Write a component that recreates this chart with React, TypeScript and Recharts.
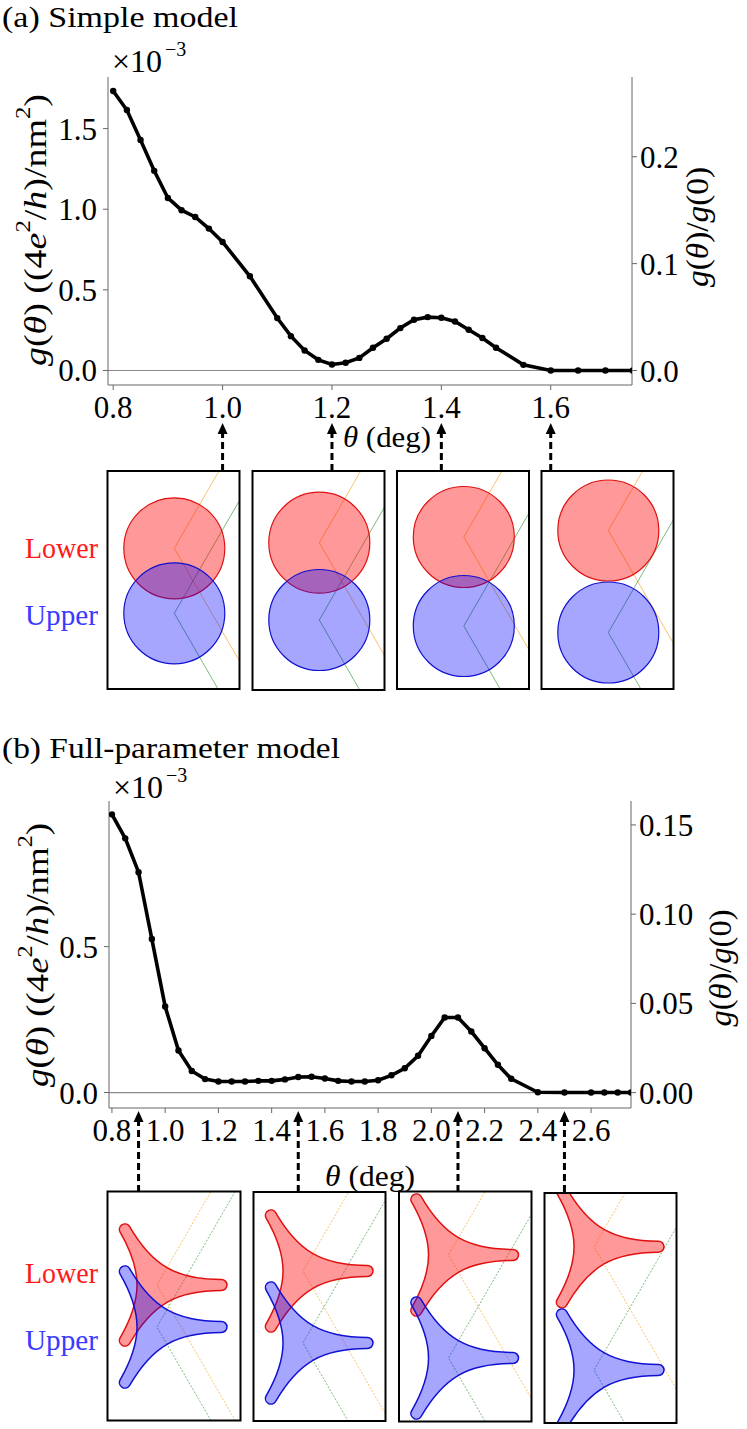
import React from 'react';
import { LineChart, Line, XAxis, YAxis, ReferenceLine } from 'recharts';

// ---- panel (a): simple model ----
const thetaA = [0.8, 0.825, 0.85, 0.875, 0.9, 0.925, 0.95, 0.975, 1.0, 1.05, 1.1, 1.125, 1.15, 1.175, 1.2, 1.225, 1.25, 1.275, 1.3, 1.325, 1.35, 1.375, 1.4, 1.425, 1.45, 1.475, 1.5, 1.55, 1.6, 1.65, 1.7, 1.75];
const gA = [1.733, 1.615, 1.429, 1.238, 1.07, 0.994, 0.952, 0.88, 0.797, 0.584, 0.325, 0.213, 0.124, 0.066, 0.037, 0.048, 0.078, 0.141, 0.197, 0.263, 0.315, 0.331, 0.327, 0.304, 0.253, 0.201, 0.141, 0.035, 0.0, 0.0, 0.0, 0.0];

// ---- panel (b): full-parameter model ----
const thetaB = [0.8, 0.85, 0.9, 0.95, 1.0, 1.05, 1.1, 1.15, 1.2, 1.25, 1.3, 1.35, 1.4, 1.45, 1.5, 1.55, 1.6, 1.65, 1.7, 1.75, 1.8, 1.85, 1.9, 1.95, 2.0, 2.05, 2.1, 2.15, 2.2, 2.25, 2.3, 2.4, 2.5, 2.6, 2.65, 2.7, 2.75];
const gB = [0.953, 0.871, 0.755, 0.526, 0.295, 0.144, 0.074, 0.046, 0.038, 0.038, 0.038, 0.04, 0.04, 0.045, 0.053, 0.054, 0.048, 0.04, 0.038, 0.038, 0.042, 0.059, 0.083, 0.126, 0.194, 0.257, 0.257, 0.209, 0.152, 0.095, 0.047, 0.001, 0.0, 0.0, 0.0, 0.0, 0.0];

const xTicksA = [0.8, 1.0, 1.2, 1.4, 1.6];
const yTicksA = [0, 0.5, 1.0, 1.5];
const rTicksA = [0, 0.1, 0.2];
const xTicksB = [0.8, 1.0, 1.2, 1.4, 1.6, 1.8, 2.0, 2.2, 2.4, 2.6];
const yTicksB = [0, 0.5];
const rTicksB = [0, 0.05, 0.1, 0.15];

// angles picked out for the inset sketches
const arrowsA = [1.0, 1.2, 1.4, 1.6];
const arrowsB = [0.9, 1.5, 2.1, 2.5];

const dataA = thetaA.map((t, i) => ({ theta: t, g: gA[i] }));
const dataB = thetaB.map((t, i) => ({ theta: t, g: gB[i] }));

const FONT = 'Liberation Serif, LiberationSerif, Tinos, Times New Roman, Times, Nimbus Roman, serif';
const tickStyle = { fontSize: 31, fill: '#000', fontFamily: FONT };

// plot-area geometry
const A = { left: 108, right: 632, top: 77, bottom: 385, x0: 0.7905, x1: 1.7486 };
const B = { left: 109, right: 631, top: 801, bottom: 1108, x0: 0.789, x1: 2.75 };
const xPix = (p: any, t: number) => p.left + ((t - p.x0) / (p.x1 - p.x0)) * (p.right - p.left);

const Panel = ({ top, height, data, geo, xTicks, yDomain, yTicks, rDomain, rTicks, rDigits }: any) => {
  const yAxisW = 70;
  const xAxisH = 40;
  const margin = {
    top: geo.top - top,
    bottom: top + height - geo.bottom - xAxisH,
    left: geo.left - yAxisW,
    right: 747 - geo.right - yAxisW,
  };
  return (
    <div style={{ position: 'absolute', left: 0, top, width: 747, height }}>
      <LineChart width={747} height={height} data={data} margin={margin}>
        <XAxis
          dataKey="theta"
          type="number"
          domain={[geo.x0, geo.x1]}
          ticks={xTicks}
          interval={0}
          allowDataOverflow
          height={xAxisH}
          tickSize={5}
          tickMargin={6}
          stroke="#666"
          tick={tickStyle}
          tickFormatter={(v: number) => v.toFixed(1)}
        />
        <XAxis xAxisId="top" orientation="top" type="number" domain={[geo.x0, geo.x1]} allowDataOverflow tick={false} tickLine={false} height={0} stroke="#666" />
        <YAxis
          yAxisId="left"
          type="number"
          domain={yDomain}
          ticks={yTicks}
          interval={0}
          allowDataOverflow
          width={yAxisW}
          tickSize={5}
          tickMargin={6}
          stroke="#666"
          tick={tickStyle}
          tickFormatter={(v: number) => v.toFixed(1)}
        />
        <YAxis
          yAxisId="right"
          orientation="right"
          type="number"
          domain={rDomain}
          ticks={rTicks}
          interval={0}
          allowDataOverflow
          width={yAxisW}
          tickSize={5}
          tickMargin={3}
          stroke="#666"
          tick={tickStyle}
          tickFormatter={(v: number) => v.toFixed(rDigits)}
        />
        <ReferenceLine yAxisId="left" y={0} stroke="#8a8a8a" strokeWidth={1.2} />
        <Line
          yAxisId="left"
          type="linear"
          dataKey="g"
          stroke="#000"
          strokeWidth={3.6}
          dot={{ r: 3.2, fill: '#000', stroke: 'none' }}
          isAnimationActive={false}
        />
      </LineChart>
    </div>
  );
};

// three-armed Fermi-pocket sketch
const starPath = (cx: number, cy: number, L = 70, w = 5.5, k = 0.65) => {
  const angs = [0, 120, 240].map((a) => (a * Math.PI) / 180);
  const pt = (a: number, r: number, s: number) =>
    `${(cx + r * Math.cos(a) - s * Math.sin(a)).toFixed(1)} ${(cy + r * Math.sin(a) + s * Math.cos(a)).toFixed(1)}`;
  let d = '';
  angs.forEach((a, i) => {
    const b = angs[(i + 1) % 3];
    if (i === 0) d += `M${pt(a, L - w, -w)}`;
    d += ` A${w} ${w} 0 0 1 ${pt(a, L - w, w)}`;
    d += ` C${pt(a, L - w - k * L, w)} ${pt(b, L - w - k * L, -w)} ${pt(b, L - w, -w)}`;
  });
  return d + ' Z';
};

const RED_FILL = 'rgba(255,0,0,0.4)';
const BLUE_FILL = 'rgba(0,0,255,0.35)';

const boxesA = [
  { x: 107.5, y: 471, w: 132, h: 218, red: 548.3, blue: 613.3 },
  { x: 252.5, y: 471, w: 132, h: 219, red: 542.7, blue: 620 },
  { x: 397, y: 471, w: 132, h: 218, red: 537, blue: 626 },
  { x: 541.5, y: 471, w: 132, h: 218, red: 530.5, blue: 632.5 },
];
const boxesB = [
  { x: 107.5, y: 1191.5, w: 133, h: 229, red: 1285, blue: 1327 },
  { x: 253.5, y: 1192, w: 132, h: 229, red: 1271, blue: 1343 },
  { x: 399, y: 1191.5, w: 132.5, h: 230, red: 1255, blue: 1358 },
  { x: 544.5, y: 1193, w: 132, h: 230, red: 1246.7, blue: 1370 },
];

const Zigzag = ({ cx, cy, color, dash }: any) => {
  const s = 300;
  return (
    <polyline
      points={`${cx + s * 0.5},${cy - s * 0.866} ${cx},${cy} ${cx + s * 0.5},${cy + s * 0.866}`}
      fill="none"
      stroke={color}
      strokeWidth={0.9}
      strokeOpacity={0.75}
      strokeDasharray={dash}
    />
  );
};

const Arrow = ({ x, tip, base }: any) => (
  <g>
    <line x1={x} y1={base} x2={x} y2={tip + 10} stroke="#000" strokeWidth={3} strokeDasharray="7 4" />
    <polygon points={`${x},${tip} ${x - 5},${tip + 11} ${x + 5},${tip + 11}`} fill="#000" />
  </g>
);

const YLabelLeft = ({ x, y, len }: any) => (
  <text
    transform={`translate(${x},${y}) rotate(-90)`}
    textAnchor="middle"
    dominantBaseline="central"
    fontFamily={FONT}
    fontSize={32}
    textLength={len}
    lengthAdjust="spacingAndGlyphs"
  >
    <tspan fontStyle="italic">g</tspan>(<tspan fontStyle="italic">θ</tspan>) ((4<tspan fontStyle="italic">e</tspan>
    <tspan dy={-12} fontSize={21}>2</tspan>
    <tspan dy={12}>/</tspan>
    <tspan fontStyle="italic">h</tspan>)/nm<tspan dy={-12} fontSize={21}>2</tspan>
    <tspan dy={12}>)</tspan>
  </text>
);

const YLabelRight = ({ x, y, len }: any) => (
  <text
    transform={`translate(${x},${y}) rotate(-90)`}
    textAnchor="middle"
    dominantBaseline="central"
    fontFamily={FONT}
    fontSize={31}
    textLength={len}
    lengthAdjust="spacingAndGlyphs"
  >
    <tspan fontStyle="italic">g</tspan>(<tspan fontStyle="italic">θ</tspan>)/<tspan fontStyle="italic">g</tspan>(0)
  </text>
);

const XLabel = ({ x, y, len }: any) => (
  <text x={x} y={y} fontFamily={FONT} fontSize={29} textLength={len} lengthAdjust="spacingAndGlyphs">
    <tspan fontStyle="italic">θ</tspan> (deg)
  </text>
);

const Exponent = ({ x, y }: any) => (
  <g fontFamily={FONT}>
    <text x={x} y={y} fontSize={32}>×10</text>
    <text x={x + 53} y={y - 16} fontSize={20}>−3</text>
  </g>
);

const Overlay = () => (
  <svg width={747} height={1429} style={{ position: 'absolute', left: 0, top: 0, pointerEvents: 'none' }}>
    <defs>
      {boxesA.concat(boxesB).map((b, i) => (
        <clipPath id={`clip-${i}`} key={i}>
          <rect x={b.x} y={b.y} width={b.w} height={b.h} />
        </clipPath>
      ))}
    </defs>

    {/* titles */}
    <text x={2} y={27} fontFamily={FONT} fontSize={30} textLength={236} lengthAdjust="spacingAndGlyphs">(a) Simple model</text>
    <text x={2} y={758} fontFamily={FONT} fontSize={30} textLength={338} lengthAdjust="spacingAndGlyphs">(b) Full-parameter model</text>

    <Exponent x={112} y={72} />
    <Exponent x={113} y={798} />

    <YLabelLeft x={35} y={230} len={272} />
    <YLabelLeft x={37} y={955} len={264} />
    <YLabelRight x={697} y={227} len={120} />
    <YLabelRight x={720} y={968} len={117} />

    <XLabel x={343} y={447} len={88} />
    <XLabel x={325} y={1186} len={90} />

    {arrowsA.map((t) => (
      <Arrow key={t} x={xPix(A, t)} tip={423} base={471} />
    ))}
    {arrowsB.map((t) => (
      <Arrow key={t} x={xPix(B, t)} tip={1111} base={1192} />
    ))}

    {/* inset labels */}
    {[
      { y: 548, t: 'Lower', c: '#ff1a1a' },
      { y: 615, t: 'Upper', c: '#3a3aff' },
      { y: 1273, t: 'Lower', c: '#ff1a1a' },
      { y: 1340, t: 'Upper', c: '#3a3aff' },
    ].map((l, i) => (
      <text key={i} x={98} y={l.y} textAnchor="end" dominantBaseline="central" fontFamily={FONT} fontSize={29} fill={l.c} textLength={73} lengthAdjust="spacingAndGlyphs">
        {l.t}
      </text>
    ))}

    {/* (a) insets: circular pockets */}
    {boxesA.map((b, i) => {
      const cx = b.x + 66.8;
      return (
        <g key={i}>
          <g clipPath={`url(#clip-${i})`}>
            <Zigzag cx={cx} cy={b.red} color="#f5a623" />
            <Zigzag cx={cx} cy={b.blue} color="#3a9a3a" />
            <circle cx={cx} cy={b.red} r={50.5} fill={RED_FILL} stroke="#e01010" strokeWidth={1.2} />
            <circle cx={cx} cy={b.blue} r={50.5} fill={BLUE_FILL} stroke="#1010d0" strokeWidth={1.2} />
          </g>
          <rect x={b.x} y={b.y} width={b.w} height={b.h} fill="none" stroke="#000" strokeWidth={2} />
        </g>
      );
    })}

    {/* (b) insets: trigonal pockets */}
    {boxesB.map((b, i) => {
      const cx = b.x + 49.5;
      return (
        <g key={i}>
          <g clipPath={`url(#clip-${i + 4})`}>
            <Zigzag cx={cx} cy={b.red} color="#f5a623" dash="2 1.5" />
            <Zigzag cx={cx} cy={b.blue} color="#3a9a3a" dash="2 1.5" />
            <path d={starPath(cx, b.red)} fill={RED_FILL} stroke="#e01010" strokeWidth={1.5} />
            <path d={starPath(cx, b.blue)} fill={BLUE_FILL} stroke="#1010d0" strokeWidth={1.5} />
          </g>
          <rect x={b.x} y={b.y} width={b.w} height={b.h} fill="none" stroke="#000" strokeWidth={2} />
        </g>
      );
    })}
  </svg>
);

export default function App() {
  return (
    <div style={{ position: 'absolute', left: 0, top: 0, width: 747, height: 1429, background: '#fff', fontFamily: FONT }}>
      <Panel
        top={0}
        height={460}
        data={dataA}
        geo={A}
        xTicks={xTicksA}
        yDomain={[-0.09, 1.82]}
        yTicks={yTicksA}
        rDomain={[-0.01356, 0.2746]}
        rTicks={rTicksA}
        rDigits={1}
      />
      <Panel
        top={700}
        height={460}
        data={dataB}
        geo={B}
        xTicks={xTicksB}
        yDomain={[-0.053, 0.999]}
        yTicks={yTicksB}
        rDomain={[-0.0086, 0.1634]}
        rTicks={rTicksB}
        rDigits={2}
      />
      <Overlay />
    </div>
  );
}
